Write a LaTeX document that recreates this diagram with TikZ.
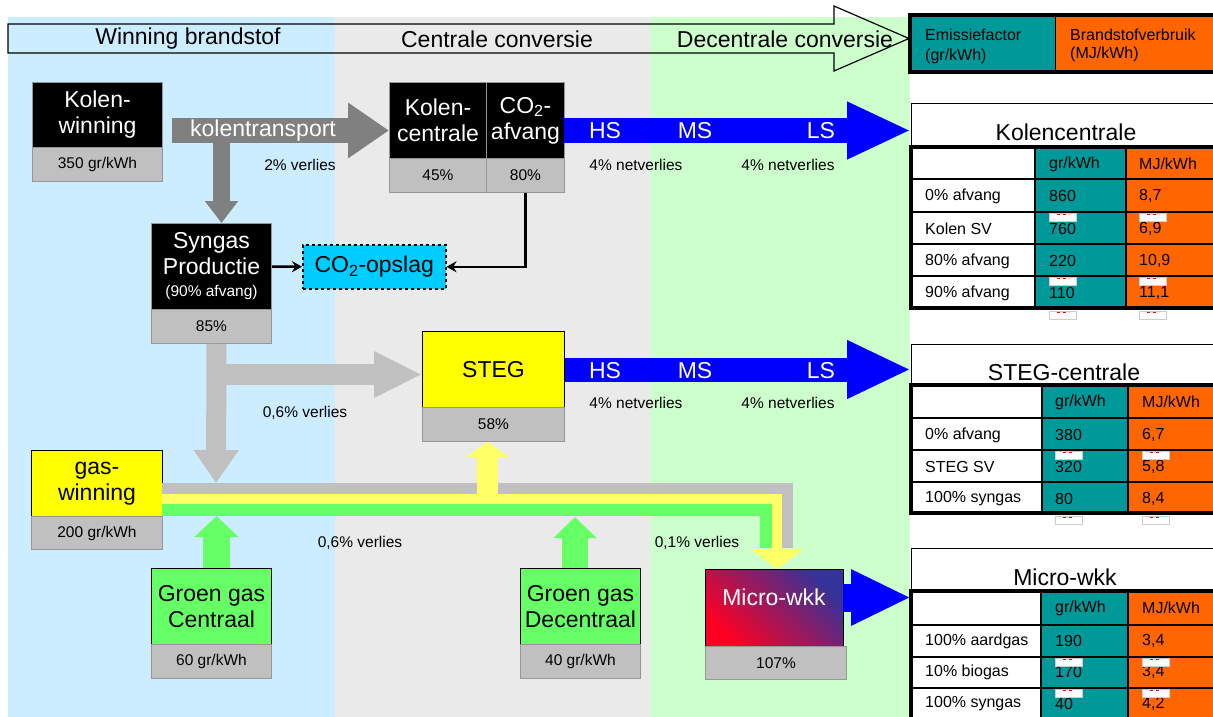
\documentclass[tikz,border=0pt]{standalone}
\usepackage{fontspec}
\setmainfont{Liberation Sans}
\usetikzlibrary{arrows.meta}

\definecolor{bandblauw}{HTML}{CCECFF}
\definecolor{bandgrijs}{HTML}{EAEAEA}
\definecolor{bandgroen}{HTML}{CCFFCC}
\definecolor{vakgrijs}{HTML}{C0C0C0}
\definecolor{randgrijs}{HTML}{969696}
\definecolor{donkergrijs}{HTML}{808080}
\definecolor{geel}{HTML}{FFFF00}
\definecolor{lichtgeel}{HTML}{FFFF66}
\definecolor{groen}{HTML}{66FF66}
\definecolor{cyaan}{HTML}{00CCFF}
\definecolor{blauw}{HTML}{0000FF}
\definecolor{petrol}{HTML}{009999}
\definecolor{oranje}{HTML}{FF6600}
\definecolor{mwrood}{HTML}{FF0022}
\definecolor{mwblauw}{HTML}{333399}

\tikzset{
  groot/.style={font=\fontsize{23}{26}\selectfont},
  klein/.style={font=\fontsize{15.5}{18}\selectfont},
  vak/.style={anchor=north west, inner sep=0pt, align=center, line width=1pt},
  zwartvak/.style={vak, draw=randgrijs, fill=black, text=white, groot},
  geelvak/.style={vak, draw=black, fill=geel, groot},
  groenvak/.style={vak, draw=black, fill=groen, groot},
  grijsvak/.style={vak, draw=randgrijs, fill=vakgrijs, klein},
  blokpijl/.style n args={4}{draw=#1, line width=#2, -{Triangle[length=#3,width=#4]}},
  gasband/.style n args={2}{draw=#1, line width=#2, line join=miter},
  co2pijl/.style={line width=2.5pt, -{Stealth[length=10pt,width=11pt]}},
  titel/.style={anchor=north west, minimum width=320pt, inner sep=0pt, draw=black, fill=white, line width=1pt},
  cel/.style={anchor=west, inner sep=0pt, font=\fontsize{16}{18}\selectfont},
  vlek/.style={fill=white, draw=black!20, line width=0.8pt},
}

\begin{document}
\begin{tikzpicture}[x=1pt,y=-1pt]
	% 画布
	\useasboundingbox (0,0) rectangle (1213,717);
	\fill[white] (0,0) rectangle (1213,717);
	\clip (0,0) rectangle (1213,717);
	
	% 三个背景区
	\fill[bandblauw] (8,17) rectangle (335,717);
	\fill[bandgrijs] (335,17) rectangle (650,717);
	\fill[bandgroen] (650,17) rectangle (910,717);
	
	% 标题箭头
	\draw[line width=1.2pt, line join=miter] (8,24) -- (834,24) -- (834,6) -- (909,38.5) -- (834,71) -- (834,53) -- (8,53) -- cycle;
	\node[groot] (hwin) at (188,39) {Winning brandstof};
	\node[groot] (hcen) at (497,39) {Centrale conversie};
	\node[groot] (hdec) at (785,39) {Decentrale conversie};
	
	% 图例
	\fill[petrol] (910,15) rectangle (1055,72);
	\fill[oranje] (1055,15) rectangle (1222,72);
	\draw[line width=1pt] (1055,15) -- (1055,72);
	\draw[line width=4pt] (910,15) rectangle (1222,72);
	\node[cel] (lem) at (925,35) {Emissiefactor};
	\node[cel] (lemu) at (925,56) {(gr/kWh)};
	\node[cel] (lbr) at (1070,35) {Brandstofverbruik};
	\node[cel] (lbru) at (1070,54) {(MJ/kWh)};
	
	% 方框
	\node[zwartvak, minimum width=130pt, minimum height=65pt] (kw) at (32,82) {Kolen-\\winning};
	\node[grijsvak, minimum width=130pt, minimum height=34pt] (kwv) at (32,147) {350 gr/kWh};
	\node[zwartvak, minimum width=97pt, minimum height=76pt] (kc) at (389,82) {Kolen-\\centrale};
	\node[grijsvak, minimum width=97pt, minimum height=34pt] (kcv) at (389,158) {45\%};
	\node[zwartvak, minimum width=78pt, minimum height=76pt] (ca) at (486,82) {CO\textsubscript{2}-\\afvang};
	\node[grijsvak, minimum width=78pt, minimum height=34pt] (cav) at (486,158) {80\%};
	\node[zwartvak, minimum width=120pt, minimum height=86pt] (sp) at (151,223) {Syngas\\Productie\\[-4pt]{\fontsize{15.5}{18}\selectfont (90\% afvang)}};
	\node[grijsvak, minimum width=120pt, minimum height=34pt] (spv) at (151,309) {85\%};
	\node[vak, draw=black, dashed, line width=1.5pt, fill=cyaan, groot, minimum width=143pt, minimum height=44pt] (co) at (302,244) {CO\textsubscript{2}-opslag};
	\node[geelvak, minimum width=142pt, minimum height=76pt] (st) at (422,331) {STEG};
	\node[grijsvak, minimum width=142pt, minimum height=34pt] (stv) at (422,407) {58\%};
	\node[geelvak, minimum width=131pt, minimum height=66pt] (gw) at (31,450) {gas-\\winning};
	\node[grijsvak, minimum width=131pt, minimum height=33pt] (gwv) at (31,516) {200 gr/kWh};
	\node[groenvak, minimum width=120pt, minimum height=76pt] (gc) at (151,568) {Groen gas\\Centraal};
	\node[grijsvak, minimum width=120pt, minimum height=34pt] (gcv) at (151,644) {60 gr/kWh};
	\node[groenvak, minimum width=120pt, minimum height=76pt] (gd) at (520,568) {Groen gas\\Decentraal};
	\node[grijsvak, minimum width=120pt, minimum height=34pt] (gdv) at (520,644) {40 gr/kWh};
	\node[vak, draw=black, top color=mwblauw, bottom color=mwrood, shading angle=-45, minimum width=138pt, minimum height=77pt] (mw) at (705,569) {};
	\node[groot, text=white] (mwt) at (774,597) {Micro-wkk};
	\node[grijsvak, minimum width=141pt, minimum height=33pt] (mwv) at (705,646) {107\%};
	
	% 表格：Kolencentrale
	\node[titel, minimum height=44pt] (ktab) at (911,103) {};
	\node[groot] (ktt) at (1066,132) {Kolencentrale};
	\fill[petrol] (1035,147) rectangle (1222,308);
	\fill[oranje] (1126,147) rectangle (1222,308);
	\foreach \y in {179,212,244,276} \draw[line width=2pt] (911,\y) -- (1222,\y);
	\draw[line width=2pt] (1035,147) -- (1035,308) (1126,147) -- (1126,308);
	\draw[line width=4pt] (1222,147) -- (911,147) -- (911,308) -- (1222,308);
	\node[cel] (kh1) at (1049,164) {gr/kWh};
	\node[cel] (kh2) at (1139,164) {MJ/kWh};
	\foreach \y/\lab/\g/\m [count=\i] in {196/0\% afvang/860/{8,7}, 229/Kolen SV/760/{6,9}, 261/80\% afvang/220/{10,9}, 293/90\% afvang/110/{11,1}} {
		\node[cel] (kl\i) at (925,\y) {\lab};
		\node[cel] (kg\i) at (1049,\y) {\g};
		\node[cel] (km\i) at (1139,\y) {\m};
	}
	\foreach \x/\y in {1049/213, 1139/213, 1049/277, 1139/277, 1049/311, 1139/311} {
		\filldraw[vlek] (\x,\y) rectangle ++(27,8);
		\draw[red, line width=1pt, dash pattern=on 3pt off 3pt] (\x+8,\y+1) -- ++(12,0);
	}
	
	% 表格：STEG-centrale
	\node[titel, minimum height=41pt] (stab) at (911,344) {};
	\node[groot] (stt) at (1064,372) {STEG-centrale};
	\fill[petrol] (1042,385) rectangle (1222,513);
	\fill[oranje] (1128,385) rectangle (1222,513);
	\foreach \y in {418,450,482} \draw[line width=2pt] (911,\y) -- (1222,\y);
	\draw[line width=2pt] (1042,385) -- (1042,513) (1128,385) -- (1128,513);
	\draw[line width=4pt] (1222,385) -- (911,385) -- (911,513) -- (1222,513);
	\node[cel] (sh1) at (1055,402) {gr/kWh};
	\node[cel] (sh2) at (1142,402) {MJ/kWh};
	\foreach \y/\lab/\g/\m [count=\i] in {435/0\% afvang/380/{6,7}, 467/STEG SV/320/{5,8}, 499/100\% syngas/80/{8,4}} {
		\node[cel] (sl\i) at (925,\y) {\lab};
		\node[cel] (sg\i) at (1055,\y) {\g};
		\node[cel] (sm\i) at (1142,\y) {\m};
	}
	\foreach \x/\y in {1055/451, 1142/451, 1055/516, 1142/516} {
		\filldraw[vlek] (\x,\y) rectangle ++(27,8);
		\draw[red, line width=1pt, dash pattern=on 3pt off 3pt] (\x+8,\y+1) -- ++(12,0);
	}
	
	% 表格：Micro-wkk
	\node[titel, minimum height=43pt] (mtab) at (911,548) {};
	\node[groot] (mtt) at (1065,577) {Micro-wkk};
	\fill[petrol] (1041,591) rectangle (1222,722);
	\fill[oranje] (1128,591) rectangle (1222,722);
	\foreach \y in {625,657,688} \draw[line width=2pt] (911,\y) -- (1222,\y);
	\draw[line width=2pt] (1041,591) -- (1041,722) (1128,591) -- (1128,722);
	\draw[line width=4pt] (1222,591) -- (911,591) -- (911,722);
	\node[cel] (mh1) at (1055,608) {gr/kWh};
	\node[cel] (mh2) at (1142,608) {MJ/kWh};
	\foreach \y/\lab/\g/\m [count=\i] in {641/100\% aardgas/190/{3,4}, 672/10\% biogas/170/{3,4}, 704/100\% syngas/40/{4,2}} {
		\node[cel] (ml\i) at (925,\y) {\lab};
		\node[cel] (mg\i) at (1055,\y) {\g};
		\node[cel] (mm\i) at (1142,\y) {\m};
	}
	\foreach \x/\y in {1055/658, 1142/658, 1055/689, 1142/689} {
		\filldraw[vlek] (\x,\y) rectangle ++(27,8);
		\draw[red, line width=1pt, dash pattern=on 3pt off 3pt] (\x+8,\y+1) -- ++(12,0);
	}
	
	% 煤运输（深灰）
	\coordinate (ktA) at (172,130.5);
	\coordinate (ktB) at (221.5,142);
	\draw[blokpijl={donkergrijs}{17pt}{22pt}{32pt}] (ktB) -- (ktB |- sp.north);
	\draw[blokpijl={donkergrijs}{25pt}{41pt}{53pt}] (ktA) -- (ktA -| kc.west);
	\node[groot, text=white] (kt) at (263,131) {kolentransport};
	
	% 合成气（浅灰）
	\coordinate (sgA) at ([xshift=5pt]spv.south);
	\coordinate (sgE) at (216,483);
	\coordinate (sgB) at (216,374.5);
	\draw[blokpijl={vakgrijs}{20pt}{33pt}{43pt}] (sgA) -- (sgE);
	\draw[blokpijl={vakgrijs}{21pt}{48pt}{43pt}] (sgB) -- (sgB -| st.west);
	
	% 气体管道
	\coordinate (pg1) at (162,488.5);
	\coordinate (pg2) at (787,488.5);
	\coordinate (pg3) at (787,548);
	\coordinate (pn1) at (162,510);
	\coordinate (pn2) at (766,510);
	\coordinate (pn3) at (766,548);
	\coordinate (py1) at (162,499);
	\coordinate (py2) at (777,499);
	\draw[gasband={vakgrijs}{11pt}] (pg1) -- (pg2) -- (pg3);
	\draw[gasband={groen}{12pt}] (pn1) -- (pn2) -- (pn3);
	\draw[blokpijl={lichtgeel}{10pt}{20pt}{52pt}, line join=miter] (py1) -- (py2) -- (py2 |- mw.north);
	
	% 向上的箭头
	\coordinate (yu) at (487.5,494);
	\draw[blokpijl={lichtgeel}{21pt}{15pt}{42pt}] (yu) -- (yu |- stv.south);
	\coordinate (gu1) at (216.5,516);
	\draw[blokpijl={groen}{27pt}{21pt}{43pt}] (gc.north -| gu1) -- (gu1);
	\coordinate (gu2) at (575,517);
	\draw[blokpijl={groen}{26pt}{21pt}{42pt}] (gd.north -| gu2) -- (gu2);
	
	% CO2 连线
	\draw[co2pijl] (sp.east) -- (co.west);
	\draw[co2pijl] (cav.south) |- (co.east);
	
	% 电网（蓝色）
	\coordinate (bl1) at (564,130.5);
	\draw[blokpijl={blauw}{25pt}{64pt}{53pt}] (bl1) -- (bl1 -| ktab.west);
	\draw[blokpijl={blauw}{24pt}{64pt}{54pt}] (st.east) -- (st.east -| stab.west);
	\coordinate (mwA) at (843,597.5);
	\draw[blokpijl={blauw}{28pt}{60pt}{52pt}] (mwA) -- (mwA -| mtab.west);
	\foreach \x/\n in {605/HS, 695/MS, 821/LS} {
		\node[groot, text=white] (bk\n) at (\x,131) {\n};
		\node[groot, text=white] (bs\n) at (\x,371) {\n};
	}
	
	% 损失标注
	\node[klein] (v1) at (300,165) {2\% verlies};
	\node[klein] (v2) at (636,165) {4\% netverlies};
	\node[klein] (v3) at (788,165) {4\% netverlies};
	\node[klein] (v4) at (305,413) {0,6\% verlies};
	\node[klein] (v5) at (636,403) {4\% netverlies};
	\node[klein] (v6) at (788,403) {4\% netverlies};
	\node[klein] (v7) at (360,543) {0,6\% verlies};
	\node[klein] (v8) at (697,543) {0,1\% verlies};
\end{tikzpicture}
\end{document}
